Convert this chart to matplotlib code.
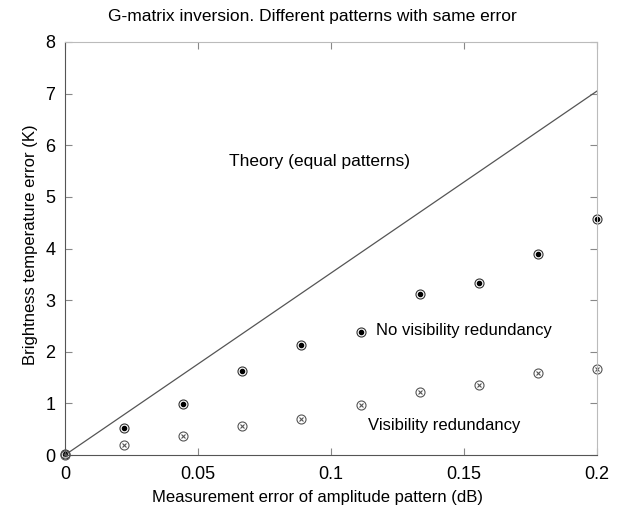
import matplotlib
matplotlib.use("Agg")
import matplotlib.pyplot as plt

plt.rcParams['font.family'] = ['Liberation Sans', 'DejaVu Sans']

x = [0, 0.0222, 0.0444, 0.0667, 0.0889, 0.1111, 0.1333, 0.1556, 0.1778, 0.2]
no_red = [0.02, 0.52, 0.98, 1.62, 2.13, 2.38, 3.12, 3.33, 3.89, 4.58]
red = [0.0, 0.19, 0.36, 0.56, 0.70, 0.97, 1.22, 1.35, 1.59, 1.67]
theory_x = [0, 0.2]
theory_y = [0, 7.05]

fig = plt.figure(figsize=(6.25, 5.16), dpi=100)
ax = fig.add_axes([65/625, 1-455/516, 532/625, 413/516])

ax.plot(theory_x, theory_y, color='#555555', lw=0.9)
ax.plot(x, no_red, 'o', ms=6.5, mfc='none', mec='#333333', mew=0.8, clip_on=False)
ax.plot(x, no_red, 'o', ms=3, color='black', clip_on=False)
ax.plot(x, red, 'o', ms=6.5, mfc='none', mec='#555555', mew=0.8, clip_on=False)
ax.plot(x, red, 'x', ms=3.5, color='#555555', mew=0.8, clip_on=False)

ax.text(0.0955, 5.68, 'Theory (equal patterns)', ha='center', va='center', fontsize=12.5)
ax.text(0.117, 2.42, 'No visibility redundancy', ha='left', va='center', fontsize=12)
ax.text(0.114, 0.58, 'Visibility redundancy', ha='left', va='center', fontsize=12)

ax.set_xlim(0, 0.2)
ax.set_ylim(0, 8)
ax.set_xticks([0, 0.05, 0.1, 0.15, 0.2])
ax.set_xticklabels(['0', '0.05', '0.1', '0.15', '0.2'])
ax.set_yticks(range(0, 9))
ax.tick_params(direction='in', top=True, right=True, labelsize=13, length=5, colors='#888888', labelcolor='black')
ax.tick_params(axis='x', pad=8)
ax.tick_params(axis='y', pad=7)
for s in ['left', 'bottom']:
    ax.spines[s].set_color('#555555')
for s in ['top', 'right']:
    ax.spines[s].set_color('#bbbbbb')

ax.set_xlabel('Measurement error of amplitude pattern (dB)', fontsize=12)
ax.xaxis.set_label_coords(0.475, -0.085)
ax.set_ylabel('Brightness temperature error (K)', fontsize=12)
ax.yaxis.set_label_coords(-0.05, 0.51)
fig.suptitle('G-matrix inversion. Different patterns with same error', fontsize=12.5, x=0.5, y=1-16/516, va='center')

fig.savefig('out.png', dpi=100)
